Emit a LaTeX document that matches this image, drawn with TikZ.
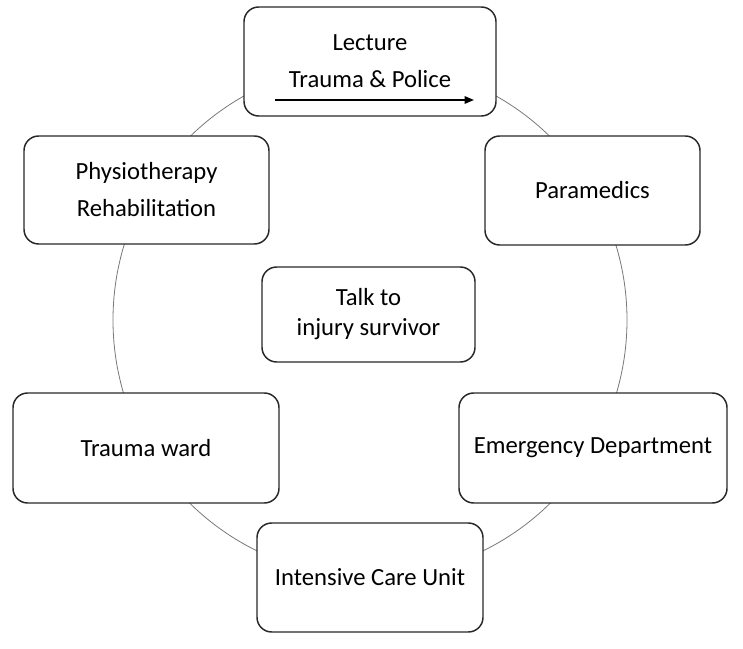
\documentclass[tikz,border=0pt]{standalone}
\usepackage{fontspec}
\setmainfont{Carlito}
\usepackage{xcolor}
\usetikzlibrary{arrows.meta}

\begin{document}
\begin{tikzpicture}[x=0.75pt,y=0.75pt,yscale=-1,xscale=1,
	stationbox/.style={draw={rgb,255:red,40;green,40;blue,40},line width=1.1pt,fill=white,rounded corners=11pt,
		inner sep=0pt,align=center,font=\fontsize{18.5}{27.75}\selectfont}]
	\useasboundingbox (0,0) rectangle (743,649);
	
	%Circle behind the boxes
	\draw [color={rgb, 255:red, 120; green, 120; blue, 120 }, line width=0.6pt] (370,320) circle [radius=257];
	
	% Boxes
	\node [stationbox, minimum width=189pt, minimum height=81.75pt] (lecture) at (370,61.5) {Lecture\\Trauma \& Police};
	\node [stationbox, minimum width=161.25pt, minimum height=81.75pt] (paramedics) at (592.5,190.5) {Paramedics};
	\node [stationbox, minimum width=183.75pt, minimum height=81pt] (physio) at (146.5,190) {Physiotherapy\\Rehabilitation};
	\node [stationbox, minimum width=159.75pt, minimum height=71.25pt, font=\fontsize{18.5}{22.5}\selectfont] (talk) at (368.5,314.5) {Talk to\\injury survivor};
	\node [stationbox, minimum width=199.5pt, minimum height=82.5pt] (ward) at (146,448) {Trauma ward};
	\node [stationbox, minimum width=201pt, minimum height=82.5pt] (emergency) at (593,448) {Emergency Department};
	\node [stationbox, minimum width=169.5pt, minimum height=81.75pt] (icu) at (370,577.5) {Intensive Care Unit};
	
	% Arrow under the lecture text
	\coordinate (arrowstart) at (275,100);
	\coordinate (arrowend) at (474,100);
	\draw [line width=1.3pt, -{Triangle[length=7pt,width=5.5pt]}] (arrowstart) -- (arrowend);
	
\end{tikzpicture}
\end{document}
